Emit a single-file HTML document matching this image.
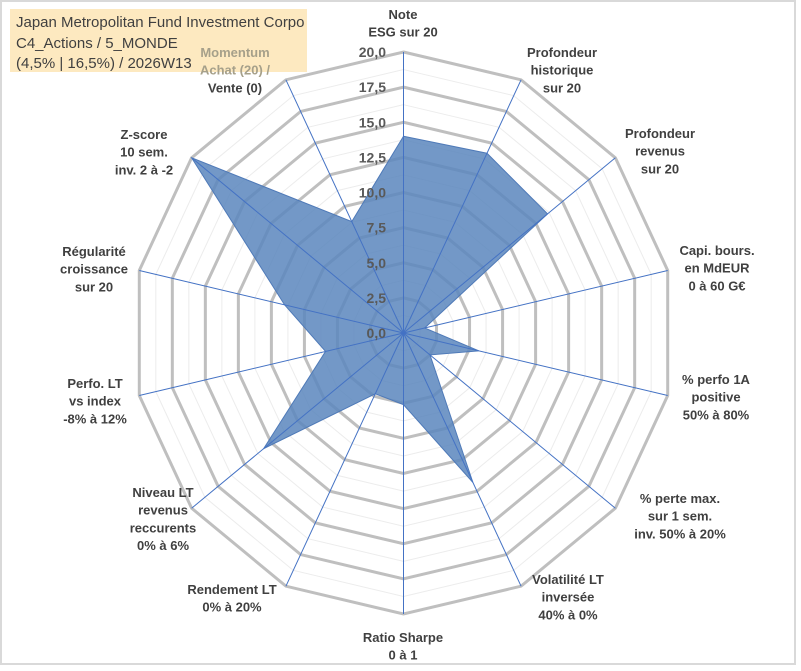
<!DOCTYPE html>
<html><head><meta charset="utf-8"><style>
body{margin:0;background:#fff;}
svg{display:block;font-family:"Liberation Sans",sans-serif;}
.lab{font-size:13px;font-weight:bold;fill:#404040;text-anchor:middle;}
.tick{font-size:14px;font-weight:bold;fill:#595959;text-anchor:end;}
</style></head><body>
<svg id="chart" width="801" height="671" viewBox="0 0 801 671">
<rect x="1" y="1" width="794" height="663" fill="#fff" stroke="#d9d9d9" stroke-width="2"/>
<rect x="10" y="9" width="297" height="63" fill="#fde9c0"/>
<text x="16" y="27" font-size="15" fill="#404040">Japan Metropolitan Fund Investment Corpo</text>
<text x="16" y="48" font-size="15" fill="#404040">C4_Actions / 5_MONDE</text>
<text x="16" y="68" font-size="15" fill="#404040">(4,5% | 16,5%) / 2026W13</text>
<g id="grid"></g><g id="series"></g><g id="labels"></g><g id="ticks"></g>
</svg>
<script>
const categories=[["Note","ESG sur 20"],["Profondeur","historique","sur 20"],["Profondeur","revenus","sur 20"],["Capi. bours.","en MdEUR","0 à 60 G€"],["% perfo 1A","positive","50% à 80%"],["% perte max.","sur 1 sem.","inv. 50% à 20%"],["Volatilité LT","inversée","40% à 0%"],["Ratio Sharpe","0 à 1"],["Rendement LT","0% à 20%"],["Niveau LT","revenus","reccurents","0% à 6%"],["Perfo. LT","vs index","-8% à 12%"],["Régularité","croissance","sur 20"],["Z-score","10 sem.","inv. 2 à -2"],["Momentum","Achat (20) /","Vente (0)"]];
const values=[14,14.2,13.6,1.6,5.7,2.5,11.8,5.1,4.8,13.2,5.9,9,20,8.8];
const tickLabels=["0,0","2,5","5,0","7,5","10,0","12,5","15,0","17,5","20,0"];
const maxV=20;
const cx=403.5,cy=333,rx=271,ry=281,N=categories.length;
const NS="http://www.w3.org/2000/svg";
function pt(i,v){const a=i*2*Math.PI/N;return [cx+Math.sin(a)*rx*v/maxV, cy-Math.cos(a)*ry*v/maxV];}
function mk(t,at,parent){const e=document.createElementNS(NS,t);for(const k in at)e.setAttribute(k,at[k]);parent.appendChild(e);return e;}
const grid=document.getElementById('grid');
for(let s=1;s<=16;s++){const v=s*1.25;const ps=[];for(let i=0;i<N;i++)ps.push(pt(i,v).join(','));
 const major=s%2===0;
 const r=mk('polygon',{points:ps.join(' '),fill:'none',stroke:major?'#bfbfbf':'#ececec','stroke-width':major?3:1},grid);
 
 }
const ser=document.getElementById('series');
const poly=mk('polygon',{points:values.map((v,i)=>pt(i,v).join(',')).join(' '),fill:'#5b86bd','fill-opacity':'0.85',stroke:'#4f7ab8','stroke-width':1},ser);


for(let i=0;i<N;i++){const p=pt(i,maxV);
 const l=mk('line',{x1:cx,y1:cy,x2:p[0],y2:p[1],stroke:'#4472c4','stroke-width':1},grid.parentNode.querySelector('#labels'));
 
 }
const labPos=[[403,14],[562,52],[660,133],[717,250],[716,379],[680,498],[568,579],[403,637],[232,589],[163,492],[95,383],[94,251],[144,134],[235,52]];
const lg=document.getElementById('labels');
categories.forEach((c,i)=>{const t=mk('text',{class:'lab',x:labPos[i][0],y:labPos[i][1]+5},lg);
 
 
 c.forEach((s,j)=>{const ts=mk('tspan',{x:labPos[i][0],dy:j?17.7:0},t);ts.textContent=s;
  if(i===13&&j<2)ts.setAttribute('fill','#a6a08a');});});
const tg=document.getElementById('ticks');
tickLabels.forEach((s,k)=>{const y=cy-ry*(k*2.5)/maxV;const t=mk('text',{class:'tick',x:386,y:y+5},tg);
 
 
 t.textContent=s;});
</script>
</body></html>
